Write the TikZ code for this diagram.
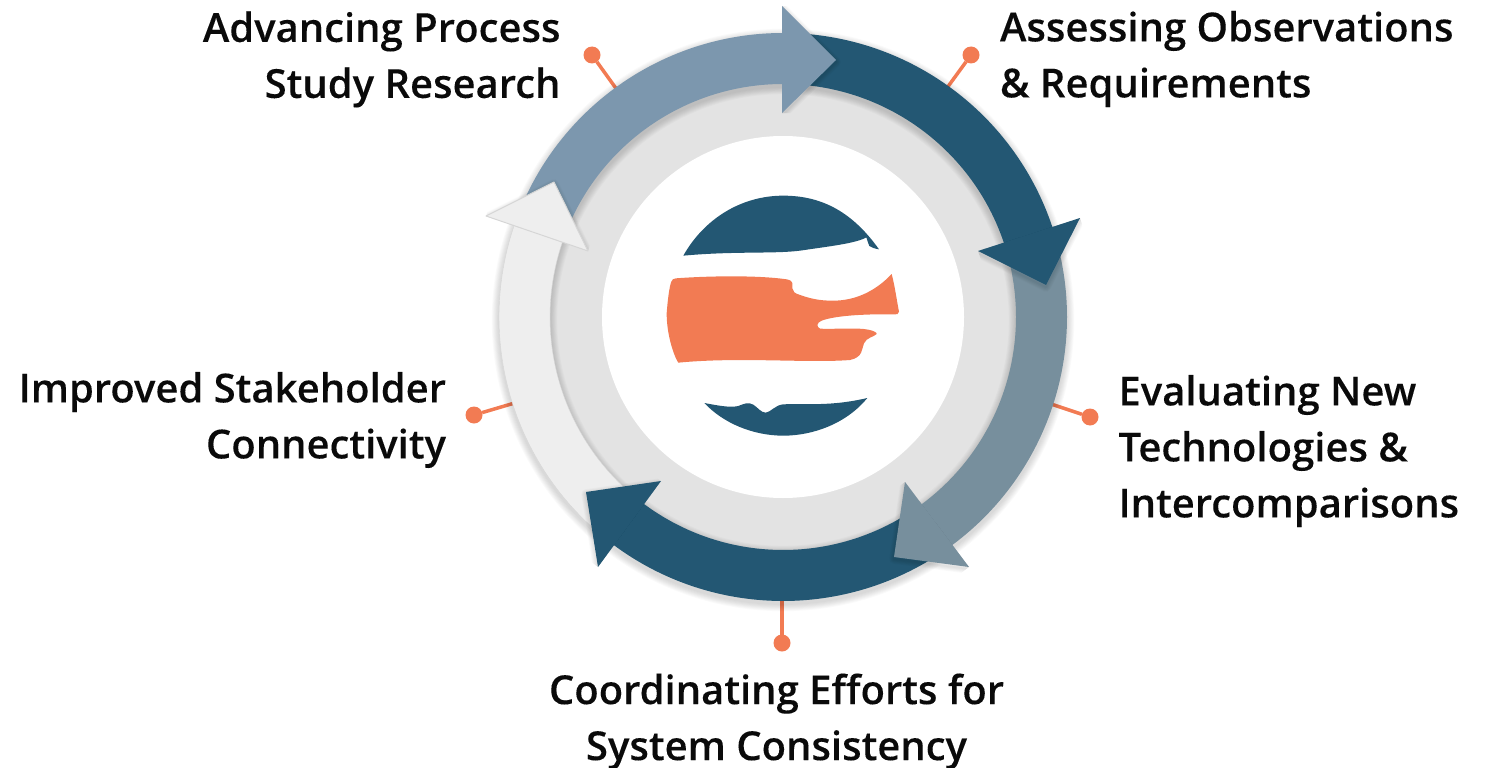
\documentclass[tikz,border=0pt]{standalone}
\usepackage{fontspec}
\setmainfont{Open Sans}[BoldFont={Open Sans Semibold},BoldFeatures={FakeBold=0.12}]
\definecolor{navy}{HTML}{235773}
\definecolor{steel}{HTML}{7C97AE}
\definecolor{slate}{HTML}{778F9D}
\definecolor{coral}{HTML}{F27B53}
\definecolor{pale}{HTML}{EEEEEE}
\definecolor{ringgrey}{HTML}{E3E3E3}
\definecolor{paleedge}{HTML}{D6D6D6}
\definecolor{ink}{HTML}{0A0A0A}
\usetikzlibrary{calc}
\tikzset{
  labeltext/.style={font=\fontsize{40}{56}\selectfont\bfseries,text=ink,inner sep=0pt,outer sep=0pt},
  pin/.style={circle,fill=coral,minimum size=17pt,inner sep=0pt,outer sep=0pt},
  pinline/.style={draw=coral,line width=3.5pt},
}
\newcommand{\band}[4]{% a1 a2 fill draw
  \path[fill=#3,draw=#4] (783,317) ++(#1:284) arc[start angle=#1,end angle=#2,radius=284]
    -- ($(783,317)+(#2:233)$) arc[start angle=#2,end angle=#1,radius=233] -- cycle;}
\newcommand{\headshade}[3]{%
  \begin{scope}
  \clip #1 -- ($2*#2-#3$) -- ($2*#2-#1$) -- #3 -- cycle;
  \foreach \i in {1,...,6}{\draw[black,opacity=.02,line width=\i*1.6pt,line join=round,shift={(0,2)}] #1 -- #2 -- #3 -- cycle;}
  \end{scope}}
\begin{document}
\begin{tikzpicture}[x=1pt,y=-1pt]
\useasboundingbox (0,0) rectangle (1486,768);
% pins
\node[pin] (p1) at (592,55) {};
\node[pin] (p2) at (971,55) {};
\node[pin] (p3) at (1090,417) {};
\node[pin] (p4) at (782,643) {};
\node[pin] (p5) at (474,415) {};
\coordinate (q1) at (620,94);
\coordinate (q2) at (944,92);
\coordinate (q3) at (1045,402);
\coordinate (q4) at (782,596);
\coordinate (q5) at (518,402);
\draw[pinline] (p1) -- (q1);
\draw[pinline] (p2) -- (q2);
\draw[pinline] (p3) -- (q3);
\draw[pinline] (p4) -- (q4);
\draw[pinline] (p5) -- (q5);
% grey ring and centre
\fill[ringgrey] (783,317) circle (236);
\fill[white] (783,317) circle (181);
% soft shadow of the arrow ring
\foreach \i in {1,...,8}{\draw[black,opacity=.02,line width={51pt+\i*1.8pt}] (783,320) circle (258.5);}
% bands: both ends are hidden beneath the arrow heads
\band{-158.3}{-89}{steel}{none}
\band{-87}{-17.5}{navy}{none}
\band{-15.5}{54.4}{slate}{none}
\band{56.4}{127.6}{navy}{none}
\band{129.6}{199.7}{pale}{paleedge}
% heads
\headshade{(782,6)}{(836,60)}{(782,113)}
\fill[steel] (782,6) -- (836,60) -- (782,113) -- cycle;
\headshade{(1080,218)}{(1046,285)}{(978,251)}
\fill[navy] (1080,218) -- (1046,285) -- (978,251) -- cycle;
\headshade{(905,482)}{(894,557)}{(969,567)}
\fill[slate] (905,482) -- (894,557) -- (969,567) -- cycle;
\headshade{(661,481)}{(586,492)}{(598,567)}
\fill[navy] (661,481) -- (586,492) -- (598,567) -- cycle;
\headshade{(486,216)}{(554,182)}{(588,251)}
\path[fill=pale,draw=paleedge,line width=1pt,line join=round] (486,216) -- (554,182) -- (588,251) -- cycle;
% logo
\begin{scope}[shift={(640,180)},x=0.33333pt,y=-0.33333pt]
\fill[navy] (130,227) .. controls (190,120) and (300,47) .. (430,47)
  .. controls (550,47) and (640,100) .. (717,208)
  .. controls (705,206) and (695,203) .. (688,198)
  .. controls (682,190) and (684,180) .. (679,172)
  .. controls (650,190) and (560,200) .. (480,212)
  .. controls (400,222) and (280,213) .. (130,227) -- cycle;
\fill[coral] (108,295) .. controls (200,288) and (350,285) .. (440,298)
  .. controls (465,303) and (455,315) .. (457,325)
  .. controls (458,335) and (465,340) .. (475,343)
  .. controls (520,360) and (550,362) .. (580,362)
  .. controls (650,362) and (710,330) .. (755,282)
  .. controls (765,320) and (770,360) .. (777,395)
  .. controls (778,403) and (770,403) .. (760,403)
  .. controls (690,402) and (590,405) .. (545,422)
  .. controls (530,428) and (528,440) .. (540,446)
  .. controls (590,448) and (650,442) .. (685,449)
  .. controls (700,452) and (712,458) .. (710,462)
  .. controls (700,472) and (680,472) .. (672,490)
  .. controls (665,505) and (670,532) .. (630,540)
  .. controls (500,550) and (300,530) .. (115,548)
  .. controls (105,535) and (80,470) .. (80,400)
  .. controls (83,360) and (88,320) .. (94,305)
  .. controls (96,298) and (100,296) .. (108,295) -- cycle;
\fill[navy] (193,669) .. controls (230,676) and (270,684) .. (295,678)
  .. controls (310,672) and (325,665) .. (340,674)
  .. controls (355,684) and (362,697) .. (377,698)
  .. controls (392,697) and (405,675) .. (430,673)
  .. controls (500,670) and (570,680) .. (682,654)
  .. controls (620,730) and (520,767) .. (430,767)
  .. controls (340,767) and (250,730) .. (193,669) -- cycle;
\end{scope}
% labels
\node[labeltext,align=right,anchor=north east] (t1) at (560.5,11.5) {Advancing Process\\Study Research};
\node[labeltext,align=left,anchor=north west] (t2) at (1000,11) {Assessing Observations\\\& Requirements};
\node[labeltext,align=left,anchor=north west] (t3) at (1118.5,375) {Evaluating New\\Technologies \&\\Intercomparisons};
\node[labeltext,align=center,anchor=north] (t4) at (776.5,673.5) {Coordinating Efforts for\\System Consistency};
\node[labeltext,align=right,anchor=north east] (t5) at (446,372) {Improved Stakeholder\\Connectivity};
\end{tikzpicture}
\end{document}
